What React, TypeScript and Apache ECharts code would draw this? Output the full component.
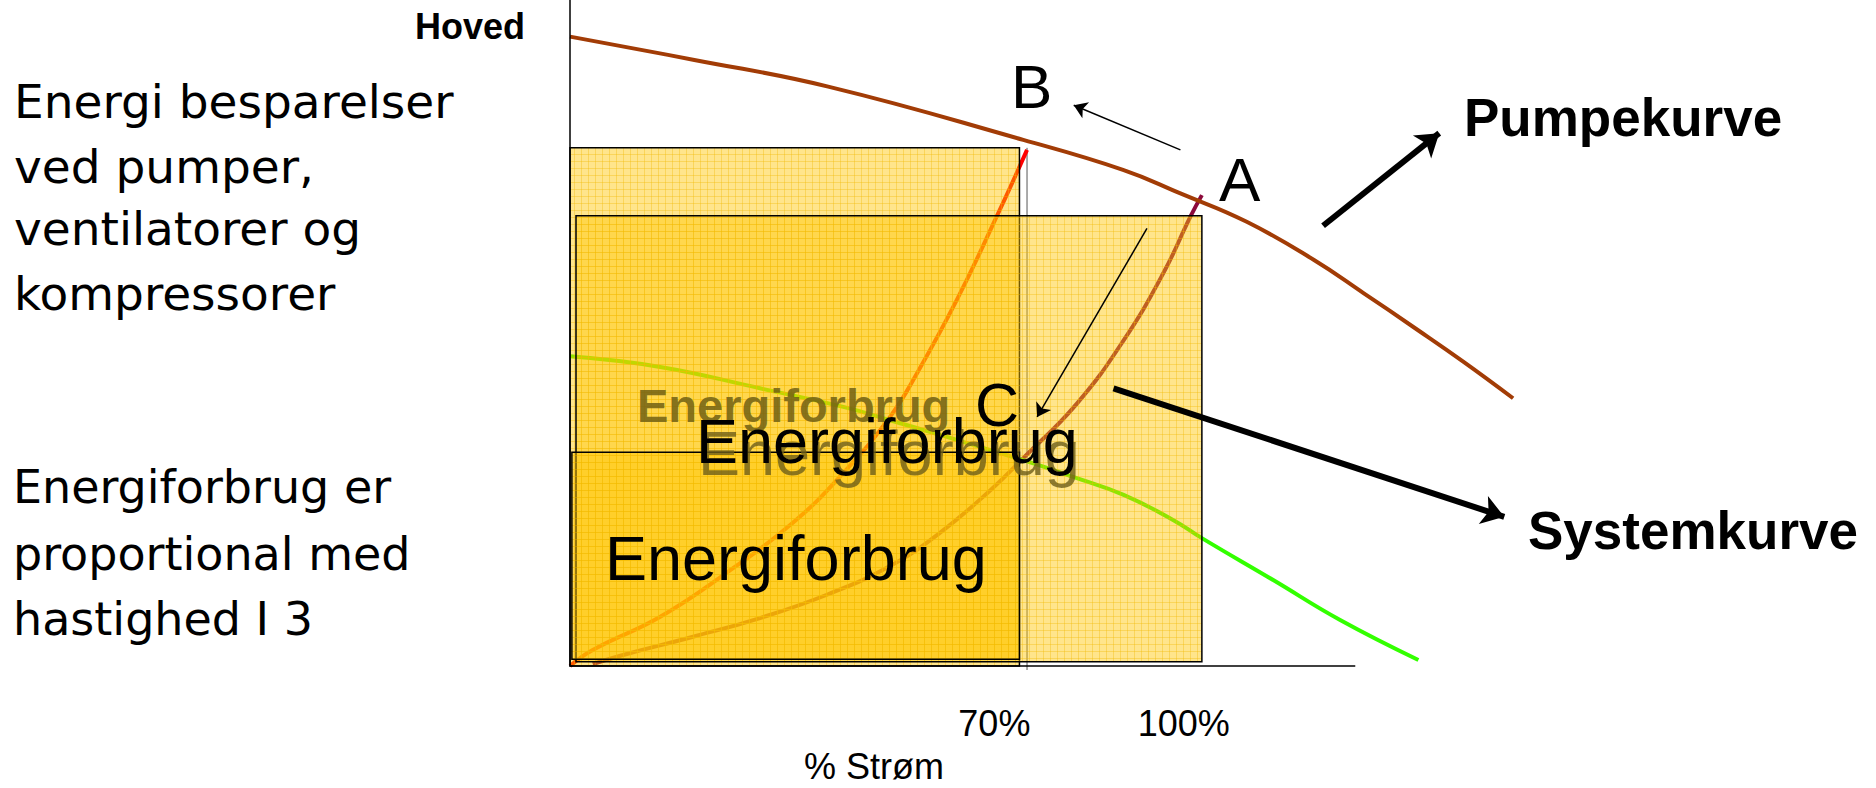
import { useEffect, useRef } from 'react';
import * as echarts from 'echarts';

// ---- data (flow % on x, head on y) ----
const xTickValues = [70, 100];
const xAxisName = '% Strøm';
const yAxisName = 'Hoved';
const xAxisLine = [[0, 0], [124.4, 0]];

const pumpCurve = [
  [0, 94.5], [19.7, 91.0], [40.9, 87.0], [71.8, 79.0], [87.6, 74.5],
  [96.6, 71.0], [107.2, 66.7], [117.8, 61.0], [125.7, 56.0], [133.6, 50.9],
  [141.5, 45.7], [149.4, 40.2],
];
const systemCurveReduced = [
  [0, 0], [3.6, 2.4], [14.3, 7.4], [24.8, 14.0], [35.3, 21.5], [43.3, 29.0],
  [50.7, 37.4], [55.0, 44.0], [61.3, 55.0], [67.6, 67.5], [72.4, 77.5],
];
const systemCurveFull = [
  [3.6, 0.3], [9.0, 1.8], [19.5, 4.4], [30.1, 7.2], [40.7, 10.7], [50.7, 15.0],
  [58.6, 20.0], [66.6, 26.4], [71.8, 31.2], [80.3, 39.4], [87.7, 48.9],
  [94.0, 59.0], [98.3, 67.5], [100.1, 70.7],
];
const greenCurve = [
  [0, 46.5], [14.3, 44.9], [30.1, 41.7], [43.3, 38.9], [50.7, 36.9],
  [58.6, 34.7], [71.8, 30.9], [79.7, 28.4], [87.7, 25.7], [95.6, 21.9],
  [100.1, 19.2], [111.4, 12.9], [122.0, 6.9], [134.4, 0.9],
];
// [x0, y0, x1, y1]
const energyRects = [
  [0, 0, 71.2, 77.8],
  [0.95, 0.65, 100.1, 67.6],
  [0.3, 1.0, 71.2, 32.1],
];
const marker70 = [[72.4, -0.6], [72.4, 77.8]];
const thinArrows = [
  [[96.7, 77.5], [79.8, 84.2]],
  [[91.4, 65.7], [74.0, 37.4]],
];
const thickArrows = [
  [[119.3, 66.1], [137.7, 80.0]],
  [[86.1, 41.7], [148.0, 22.4]],
];
const introLines = ['Energi besparelser', 'ved pumper,', 'ventilatorer og', 'kompressorer'];
const ruleLines = ['Energiforbrug er', 'proportional med', 'hastighed I 3'];
const energyLabel = 'Energiforbrug';
const pointLabels = ['A', 'B', 'C'];
const curveLabels = ['Pumpekurve', 'Systemkurve'];

const SANS = '"Liberation Sans", Arial, sans-serif';
const WIDE = '"DejaVu Sans", Verdana, sans-serif';

const gridSvg =
  "<svg xmlns='http://www.w3.org/2000/svg' width='7' height='7'><path d='M0 0.5H7M0.5 0V7' stroke='#f0b800' stroke-opacity='0.35' stroke-width='1' fill='none'/></svg>";
const gridPattern = 'data:image/svg+xml;charset=utf-8,' + encodeURIComponent(gridSvg);

function txt(text: string, x: number, y: number, fontSize: number, extra: any = {}) {
  return {
    type: 'text',
    x,
    y,
    z: 100,
    style: {
      text,
      fontSize,
      fontFamily: SANS,
      fill: '#000',
      align: 'left',
      verticalAlign: 'middle',
      ...extra,
    },
  };
}

export default function App() {
  const ref = useRef<HTMLDivElement>(null);

  useEffect(() => {
    if (!ref.current) return;
    const chart = echarts.init(ref.current, undefined, { renderer: 'svg' });

    const introY = [101, 166, 228, 293];
    const ruleY = [487, 554, 619];

    const graphics: any[] = [
      txt(yAxisName, 415, 26, 36, { fontWeight: 'bold' }),
      ...introLines.map((l, i) => txt(l, 14, introY[i], 47, { fontFamily: WIDE })),
      ...ruleLines.map((l, i) => txt(l, 13, ruleY[i], 46, { fontFamily: WIDE })),
      txt(curveLabels[0], 1464, 117, 53, { fontWeight: 'bold' }),
      txt(curveLabels[1], 1528, 530, 53, { fontWeight: 'bold' }),
      txt(pointLabels[0], 1219, 179, 62),
      txt(pointLabels[1], 1011, 86, 62),
      txt(energyLabel, 637, 405, 47, { fontWeight: 'bold', fill: 'rgba(112,96,20,0.85)' }),
      txt(pointLabels[2], 975, 405, 61),
      txt(energyLabel, 696, 441, 63, {
        textShadowColor: 'rgba(110,95,20,0.8)',
        textShadowOffsetX: 2,
        textShadowOffsetY: 12,
        textShadowBlur: 1,
      }),
      txt(energyLabel, 605, 558, 63),
      txt(xAxisName, 874, 766, 36, { align: 'center' }),
    ];

    const lineSeries = (data: number[][], color: string, width: number, z: number) => ({
      type: 'line',
      data,
      smooth: 0.45,
      symbol: 'none',
      clip: false,
      silent: true,
      z,
      lineStyle: { color, width },
    });

    const option: any = {
      animation: false,
      backgroundColor: '#ffffff',
      grid: { left: 570, top: 0, width: 1010, height: 666 },
      xAxis: {
        type: 'value',
        min: 0,
        max: 160,
        axisLine: { show: false },
        axisTick: { show: false },
        splitLine: { show: false },
        axisLabel: {
          customValues: xTickValues,
          formatter: '{value}%',
          fontSize: 36,
          fontFamily: SANS,
          color: '#000',
          margin: 57,
          verticalAlign: 'middle',
          padding: [0, 35, 0, 0],
        },
      },
      yAxis: {
        type: 'value',
        min: 0,
        max: 100,
        z: 10,
        axisLine: { show: true, onZero: false, lineStyle: { color: '#000', width: 1.5 } },
        axisTick: { show: false },
        axisLabel: { show: false },
        splitLine: { show: false },
      },
      series: [
        { ...lineSeries(marker70, '#555555', 1, 1), smooth: false },
        lineSeries(systemCurveReduced, '#ff0000', 4, 1),
        lineSeries(systemCurveFull, '#8c0a3c', 4, 1),
        lineSeries(greenCurve, '#33ff00', 4, 1),
        {
          type: 'custom',
          z: 2,
          silent: true,
          data: energyRects,
          encode: { x: [0, 2], y: [1, 3] },
          renderItem: (_params: any, api: any) => {
            const p0 = api.coord([api.value(0), api.value(1)]);
            const p1 = api.coord([api.value(2), api.value(3)]);
            const shape = { x: p0[0], y: p1[1], width: p1[0] - p0[0], height: p0[1] - p1[1] };
            return {
              type: 'group',
              children: [
                { type: 'rect', shape, style: { fill: 'rgba(255,198,0,0.45)', stroke: 'none' } },
                {
                  type: 'rect',
                  shape,
                  style: {
                    fill: { image: gridPattern, repeat: 'repeat', imageWidth: 7, imageHeight: 7 },
                    stroke: '#000',
                    lineWidth: 1.5,
                  },
                },
              ],
            };
          },
        },
        { ...lineSeries(xAxisLine, '#000000', 1.5, 10), smooth: false },
        lineSeries(pumpCurve, '#a23c06', 4, 3),
        {
          type: 'lines',
          coordinateSystem: 'cartesian2d',
          z: 4,
          silent: true,
          clip: false,
          symbol: ['none', 'arrow'],
          symbolSize: [0, 13],
          lineStyle: { color: '#000', width: 1.5, curveness: 0, opacity: 1 },
          data: thinArrows.map((c) => ({ coords: c })),
        },
        {
          type: 'lines',
          coordinateSystem: 'cartesian2d',
          z: 4,
          silent: true,
          clip: false,
          symbol: ['none', 'arrow'],
          symbolSize: [0, 22],
          lineStyle: { color: '#000', width: 6, curveness: 0, opacity: 1 },
          data: thickArrows.map((c) => ({ coords: c })),
        },
      ],
      graphic: { elements: graphics },
    };

    chart.setOption(option);
    return () => chart.dispose();
  }, []);

  return (
    <div
      ref={ref}
      style={{ position: 'fixed', left: 0, top: 0, width: 1876, height: 788, background: '#fff' }}
    />
  );
}
